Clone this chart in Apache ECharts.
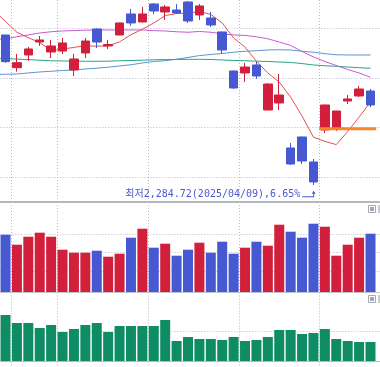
<!DOCTYPE html>
<html><head><meta charset="utf-8">
<script src="https://cdn.jsdelivr.net/npm/echarts@6/dist/echarts.min.js"></script>
<style>html,body{margin:0;padding:0;background:#fff}#c{width:380px;height:367px}</style>
</head><body><div id="c"></div>
<script>
// categories: one leading and one trailing off-screen day so MA lines run to the edge
const dates = ['02/27','02/28','03/04','03/05','03/06','03/07','03/10','03/11','03/12','03/13','03/14','03/17','03/18','03/19','03/20','03/21','03/24','03/25','03/26','03/27','03/28','03/31','04/01','04/02','04/03','04/04','04/07','04/08','04/09','04/10','04/11','04/14','04/15','04/16','04/17'];
const splitDates = ['03/04','03/10','03/20','04/01','04/10'];
// [open, close, low, high] for 02/28 .. 04/16
const ohlc = [
 [2586.5,2532.8,2530.8,2587.0],[2520.7,2530.8,2512.7,2548.3],[2546.3,2558.4,2534.2,2562.4],[2572.4,2576.5,2564.4,2584.5],
 [2552.3,2564.4,2540.2,2576.5],[2554.3,2570.4,2548.3,2580.5],[2516.1,2538.2,2504.0,2548.3],[2550.3,2574.4,2540.2,2580.5],
 [2598.6,2572.4,2560.4,2600.0],[2564.4,2567.4,2558.4,2576.5],[2586.5,2610.7,2586.0,2611.5],[2628.8,2610.7,2604.6,2638.8],
 [2612.7,2628.8,2612.0,2642.9],[2648.9,2634.8,2628.8,2650.9],[2632.8,2642.9,2616.7,2646.9],[2636.8,2630.8,2628.8,2648.9],
 [2652.9,2614.7,2610.7,2654.9],[2626.8,2644.9,2616.7,2648.9],[2620.7,2606.6,2602.6,2632.8],[2592.6,2556.3,2548.3,2593.5],
 [2514.1,2479.9,2477.9,2514.5],[2510.1,2522.1,2492.0,2530.2],[2526.2,2504.0,2498.0,2532.2],[2435.6,2487.9,2435.0,2490.0],
 [2449.7,2465.8,2435.6,2508.1],[2359.2,2327.0,2325.0,2369.2],[2381.3,2333.0,2327.0,2382.0],[2331.0,2290.8,2284.72,2337.0],
 [2395.4,2445.7,2389.3,2446.5],[2397.4,2433.6,2393.4,2434.0],[2453.7,2457.8,2447.7,2465.8],[2463.8,2477.9,2461.8,2484.0],
 [2473.8,2445.7,2441.6,2477.9]
];
// moving averages, 02/27 .. 04/16
const ma5 = [2635.8,2613.7,2592.0,2581.0,2571.4,2555.0,2558.0,2561.6,2564.8,2564.0,2564.6,2572.6,2587.1,2598.0,2610.5,2625.6,2629.6,2630.4,2633.6,2628.0,2610.7,2580.5,2562.0,2533.8,2510.0,2491.9,2461.4,2423.5,2380.9,2372.5,2366.0,2392.2,2421.2,2452.1];
const ma20 = [2577.5,2578.9,2582.9,2586.7,2590.5,2593.0,2594.6,2595.4,2596.2,2596.6,2596.6,2596.6,2596.6,2596.6,2595.2,2594.6,2593.0,2592.0,2593.6,2592.0,2588.9,2586.5,2585.7,2582.9,2578.9,2572.4,2565.4,2553.3,2542.3,2533.2,2525.2,2517.1,2510.1,2501.4];
const ma60 = [2539.8,2539.2,2538.0,2537.0,2535.8,2534.6,2534.2,2533.8,2533.6,2533.6,2533.8,2534.6,2535.2,2535.8,2536.6,2537.0,2537.2,2537.6,2537.6,2537.2,2536.2,2535.2,2534.6,2533.8,2533.2,2532.2,2531.2,2529.0,2526.2,2524.6,2523.5,2522.1,2520.7,2519.5];
const ma120 = [2507.0,2507.5,2508.1,2510.1,2512.1,2513.5,2515.1,2516.1,2518.1,2519.7,2521.7,2524.2,2526.6,2530.2,2533.2,2534.8,2537.8,2541.3,2545.1,2547.3,2549.3,2551.9,2553.7,2554.9,2556.3,2556.9,2556.3,2553.9,2551.9,2548.9,2546.7,2546.3,2546.3,2546.3];
// volume (백만주) and trading value (조원), 02/28 .. 04/16
const volume = [573,473,553,593,553,423,393,393,413,353,383,543,633,443,483,363,423,493,393,503,383,443,503,463,673,603,543,683,653,363,473,543,583];
const tradeValue = [11.5,9.5,9.5,8.25,9,7.25,8,9,9.5,7.25,8.75,8.75,8.75,8.75,10.25,5,6,5.5,5.5,5.25,6,5,5.25,6,7.75,7.75,6.75,7,8,5.5,5,4.75,4.75];
const priceGrid = [2300,2400,2500,2600];
const volGrid = [207,397,577];
const valGrid = [7.425];
const lowDate = '04/09', lowValue = 2284.72;
const lowLabel = '최저2,284.72(2025/04/09),6.65%';
const levelFrom = '04/10', levelTo = '04/16', levelValue = 2398;

const RED = '#d2203c', BLUE = '#4658d2', GREEN = '#0f8c64', GRIDC = '#b7b9c6', TXT = '#4a5ad0';
const pad = a => ['-'].concat(a, ['-']);

const splitLineCfg = { show: true, interval: (i, v) => splitDates.indexOf(v) >= 0, lineStyle: { color: GRIDC, type: [1, 2], width: 1 } };
function xAx(gridIndex, extra) {
  return Object.assign({ type: 'category', data: dates, gridIndex, boundaryGap: true,
    axisLabel: { show: false }, axisTick: { show: false }, axisLine: { show: false }, splitLine: splitLineCfg }, extra);
}
function yAx(gridIndex, extra) {
  return Object.assign({ type: 'value', gridIndex, axisLabel: { show: false }, axisTick: { show: false },
    axisLine: { show: false }, splitLine: { show: false } }, extra);
}
function hLines(vals) {
  return { silent: true, z: 1, symbol: ['none', 'none'], label: { show: false }, animation: false,
    lineStyle: { color: GRIDC, type: [1, 2], width: 1 }, emphasis: { disabled: true },
    data: vals.map(v => ({ yAxis: v })) };
}
function maLine(data, color) {
  return { type: 'line', xAxisIndex: 0, yAxisIndex: 0, data: data.concat(['-']), symbol: 'none', z: 1, silent: true,
    lineStyle: { color, width: 1 } };
}

const chart = echarts.init(document.getElementById('c'), null, { renderer: 'canvas' });
const G = { left: -11.6, right: -7.6, outerBoundsMode: 'none', containLabel: false };
chart.setOption({
  animation: false,
  backgroundColor: '#fff',
  grid: [
    Object.assign({ top: 0, height: 202 }, G),
    Object.assign({ top: 202, height: 90 }, G),
    Object.assign({ top: 292.5, height: 68.5 }, G),
    Object.assign({ top: 361.5, height: 10 }, G)
  ],
  xAxis: [
    xAx(0, { axisLine: { show: true, onZero: false, lineStyle: { color: '#b3b8bf', width: 2 } } }),
    xAx(1, {}),
    xAx(2, { position: 'top', axisLine: { show: true, onZero: false, lineStyle: { color: '#c3c7cd', width: 1 } } }),
    xAx(3, { position: 'top', axisLine: { show: true, onZero: false, lineStyle: { color: '#b5bac1', width: 1 } } })
  ],
  yAxis: [
    yAx(0, { min: 2250.5, max: 2656.9, splitNumber: 4,
      splitLine: { show: true, showMinLine: false, showMaxLine: false, lineStyle: { color: GRIDC, type: [1, 2], width: 1 } } }),
    yAx(1, { min: 0, max: 900 }),
    yAx(2, { min: 0, max: 17.125 }),
    yAx(3, { min: 0, max: 1 })
  ],
  graphic: [
    { type: 'rect', x: 368.5, y: 205.5, shape: { width: 7, height: 7 }, style: { fill: '#fff', stroke: '#a2a6ad', lineWidth: 1 }, z: 10 },
    { type: 'rect', x: 370, y: 207, shape: { width: 4, height: 4 }, style: { fill: '#a2a6ad' }, z: 10 },
    { type: 'rect', x: 378, y: 205, shape: { width: 2, height: 8 }, style: { fill: '#c9ccd1' }, z: 10 },
    { type: 'rect', x: 368.5, y: 295.5, shape: { width: 7, height: 7 }, style: { fill: '#fff', stroke: '#a2a6ad', lineWidth: 1 }, z: 10 },
    { type: 'rect', x: 370, y: 297, shape: { width: 4, height: 4 }, style: { fill: '#a2a6ad' }, z: 10 },
    { type: 'rect', x: 378, y: 295, shape: { width: 2, height: 8 }, style: { fill: '#c9ccd1' }, z: 10 }
  ],
  series: [
    maLine(ma120, '#5a96d2'),
    maLine(ma60, '#27a585'),
    maLine(ma20, '#c85ad2'),
    maLine(ma5, '#e85050'),
    {
      type: 'candlestick', xAxisIndex: 0, yAxisIndex: 0, z: 2, silent: true,
      data: pad(ohlc), barWidth: 9,
      itemStyle: { color: RED, color0: BLUE, borderColor: RED, borderColor0: BLUE, borderWidth: 1 },
      markPoint: {
        silent: true,
        symbol: 'path://M11.5,0L13.5,3L9.5,3ZM11,3L12,3L12,6.6L0,6.6L0,5.6L11,5.6Z',
        symbolSize: [13.5, 6.6],
        symbolOffset: [-4.5, 9],
        itemStyle: { color: TXT },
        label: { show: true, position: 'left', distance: 2, formatter: lowLabel, color: TXT, fontSize: 10,
          fontFamily: "'DejaVu Sans Mono','Noto Sans CJK KR',monospace" },
        data: [{ coord: [lowDate, lowValue] }]
      }
    },
    {
      type: 'custom', xAxisIndex: 0, yAxisIndex: 0, z: 3, silent: true,
      encode: { x: [0, 1], y: 2 },
      data: [[dates.indexOf(levelFrom), dates.indexOf(levelTo), levelValue]],
      renderItem: (params, api) => {
        const a = api.coord([api.value(0), api.value(2)]);
        const b = api.coord([api.value(1), api.value(2)]);
        const bw = api.size([1, 0])[0];
        return { type: 'rect', shape: { x: a[0] - bw / 2, y: a[1] - 1.5, width: b[0] - a[0] + bw, height: 3 },
          style: { fill: '#f7862a' } };
      }
    },
    {
      type: 'bar', xAxisIndex: 1, yAxisIndex: 1, z: 2, silent: true, barWidth: 10,
      data: pad(volume.map((v, i) => ({ value: v, itemStyle: { color: ohlc[i][1] >= ohlc[i][0] ? RED : BLUE } }))),
      markLine: hLines(volGrid)
    },
    {
      type: 'bar', xAxisIndex: 2, yAxisIndex: 2, z: 2, silent: true, barWidth: 10,
      data: pad(tradeValue), itemStyle: { color: GREEN },
      markLine: hLines(valGrid)
    }
  ]
});
</script>
</body></html>
